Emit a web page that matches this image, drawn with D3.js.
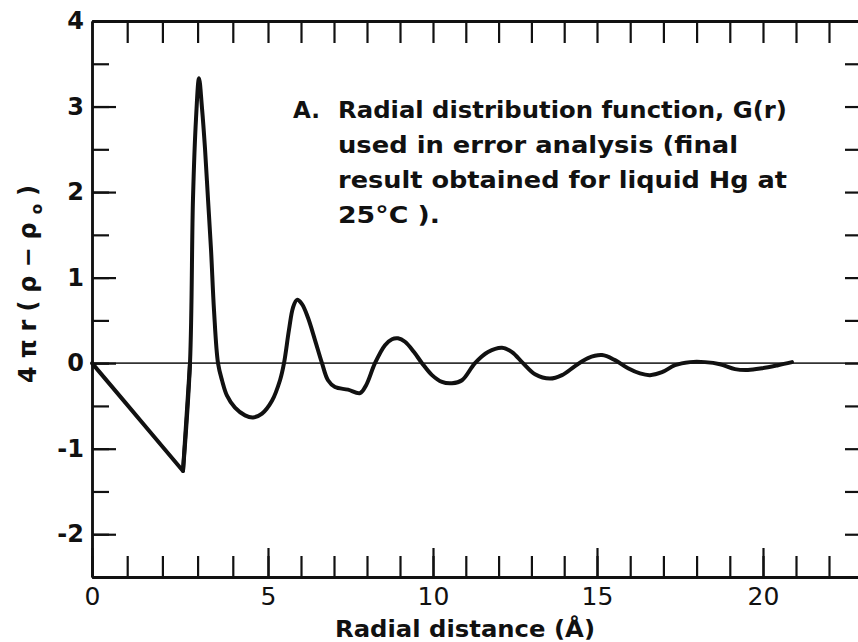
<!DOCTYPE html>
<html>
<head>
<meta charset="utf-8">
<script src="https://cdn.jsdelivr.net/npm/d3@7/dist/d3.min.js"></script>
<style>
  html, body { margin: 0; padding: 0; background: #fff; }
  svg { display: block; }
  text { fill: #111; }
</style>
</head>
<body>
<svg id="chart" width="858" height="642"></svg>
<script>
// Radial distance r (Å) and G(r) = 4πr(ρ − ρ0) for liquid Hg at 25 °C
const radius = [0, 0.852, 1.705, 2.585, 2.784, 2.869, 2.955, 3.040, 3.125, 3.210, 3.295, 3.381, 3.466, 3.580,
  3.693, 3.835, 4.062, 4.347, 4.574, 4.830, 5.121, 5.364, 5.485, 5.636, 5.758, 5.879, 6.030, 6.212, 6.424,
  6.636, 6.818, 7.030, 7.424, 7.788, 7.970, 8.242, 8.545, 8.758, 8.939, 9.152, 9.424, 9.667, 9.970, 10.274,
  10.579, 10.884, 11.280, 11.677, 12.104, 12.409, 12.744, 13.110, 13.567, 13.933, 14.329, 14.726, 15.151,
  15.542, 15.934, 16.295, 16.596, 16.958, 17.349, 17.801, 18.253, 18.705, 19.157, 19.548, 19.970, 20.455,
  20.879];
const gValues = [0, -0.415, -0.831, -1.26, 0, 1.92, 2.86, 3.33, 2.98, 2.51, 1.92, 1.33, 0.62, 0,
  -0.20, -0.38, -0.52, -0.61, -0.635, -0.59, -0.44, -0.20, 0, 0.39, 0.65, 0.74, 0.69, 0.53, 0.27,
  0, -0.20, -0.28, -0.31, -0.35, -0.26, 0, 0.21, 0.28, 0.29, 0.25, 0.13, 0, -0.14, -0.22,
  -0.235, -0.20, 0, 0.13, 0.18, 0.13, 0, -0.13, -0.18, -0.14, -0.035, 0.06, 0.094,
  0.035, -0.06, -0.12, -0.14, -0.106, -0.024, 0.012, 0.012, -0.012, -0.07, -0.08, -0.06, -0.024,
  0.012];

// Axis ticks and labels
const xMinorTicks = d3.range(0, 24, 1);
const xMajorTicks = [0, 5, 10, 15, 20];
const yMinorTicks = d3.range(-2.5, 4.01, 0.5);
const yMajorTicks = [-2, -1, 0, 1, 2, 3, 4];

const annotationLines = [
  "Radial distribution function, G(r)",
  "used in error analysis (final",
  "result obtained for liquid Hg at",
  "25°C )."
];
const xTitle = "Radial distance (Å)";

const svg = d3.select("#chart");
const FONT = "'DejaVu Sans', 'Liberation Sans', sans-serif";

// the printed abscissa is slightly stretched near the origin, so the scale is piecewise linear
const x = d3.scaleLinear().domain([0, 5, 10, 15, 20, 23]).range([92, 268, 433, 597, 763, 862]);
const y = d3.scaleLinear().domain([-2.5, 4]).range([577, 21]);

const plotLeft = x(0), plotRight = x(23), plotTop = y(4), plotBottom = y(-2.5);

// zero reference line
svg.append("line")
  .attr("x1", plotLeft).attr("x2", plotRight)
  .attr("y1", y(0)).attr("y2", y(0))
  .attr("stroke", "#333").attr("stroke-width", 1.6);

function styleAxis(g, width) {
  g.select(".domain").attr("stroke", "#111").attr("stroke-width", width);
  g.selectAll(".tick line").attr("stroke", "#111").attr("stroke-width", 2.2);
  g.selectAll(".tick text").attr("fill", "#111").attr("font-family", FONT);
}

const fmt = d => (d < 0 ? "-" : "") + Math.abs(d);

// bottom axis: minor ticks, then labelled majors
svg.append("g").attr("transform", `translate(0,${plotBottom})`)
  .call(d3.axisBottom(x).tickValues(xMinorTicks).tickSize(-21).tickSizeOuter(0).tickFormat(""))
  .call(g => styleAxis(g, 3));
svg.append("g").attr("transform", `translate(0,${plotBottom})`)
  .call(d3.axisBottom(x).tickValues(xMajorTicks).tickSize(-29).tickSizeOuter(0).tickPadding(10).tickFormat(fmt))
  .call(g => styleAxis(g, 3))
  .call(g => g.selectAll(".tick text").attr("font-size", 25));

// top axis
svg.append("g").attr("transform", `translate(0,${plotTop})`)
  .call(d3.axisTop(x).tickValues(xMinorTicks.filter(d => d > 0)).tickSize(-22).tickSizeOuter(0).tickFormat(""))
  .call(g => styleAxis(g, 3));

// left axis: half-unit minors and labelled integers
svg.append("g").attr("transform", `translate(${plotLeft},0)`)
  .call(d3.axisLeft(y).tickValues(yMinorTicks).tickSize(-17).tickSizeOuter(0).tickFormat(""))
  .call(g => styleAxis(g, 2.5));
svg.append("g").attr("transform", `translate(${plotLeft},0)`)
  .call(d3.axisLeft(y).tickValues(yMajorTicks).tickSize(-24).tickSizeOuter(0).tickPadding(8).tickFormat(fmt))
  .call(g => styleAxis(g, 2.5))
  .call(g => g.selectAll(".tick text").attr("font-size", 24).attr("font-weight", "bold"));

// right axis
svg.append("g").attr("transform", `translate(${plotRight},0)`)
  .call(d3.axisRight(y).tickValues(yMinorTicks).tickSize(-17).tickSizeOuter(0).tickFormat(""))
  .call(g => styleAxis(g, 2.5));

// G(r) curve: straight ramp up to the first minimum, smooth oscillation afterwards
const pts = radius.map((r, i) => [r, gValues[i]]);
const minIdx = 3;
const curveStyle = sel => sel
  .attr("fill", "none")
  .attr("stroke", "#111")
  .attr("stroke-width", 4)
  .attr("stroke-linejoin", "round")
  .attr("stroke-linecap", "round");
svg.append("path")
  .datum(pts.slice(0, minIdx + 2))
  .call(curveStyle)
  .attr("d", d3.line().x(d => x(d[0])).y(d => y(d[1])).curve(d3.curveLinear));
svg.append("path")
  .datum(pts.slice(minIdx))
  .call(curveStyle)
  .attr("d", d3.line().x(d => x(d[0])).y(d => y(d[1])).curve(d3.curveCatmullRom.alpha(0.5)));

// annotation block
const ann = svg.append("g").attr("font-family", FONT).attr("font-weight", "bold").attr("font-size", 23);
ann.append("text").attr("x", 293).attr("y", 118).text("A.");
const lineWidths = [449, 400, 449, 102];
annotationLines.forEach((t, i) => {
  ann.append("text")
    .attr("x", 338).attr("y", 118 + i * 35)
    .attr("textLength", lineWidths[i])
    .attr("lengthAdjust", "spacingAndGlyphs")
    .text(t);
});

// x title
svg.append("text")
  .attr("x", 335).attr("y", 637)
  .attr("font-family", FONT).attr("font-weight", "bold").attr("font-size", 23)
  .attr("textLength", 260).attr("lengthAdjust", "spacingAndGlyphs")
  .text(xTitle);

// y title: 4πr(ρ − ρo)
const yt = svg.append("text")
  .attr("transform", "translate(36,383) rotate(-90)")
  .attr("font-family", FONT).attr("font-weight", "bold").attr("font-size", 24)
  .attr("textLength", 198).attr("lengthAdjust", "spacing");
yt.append("tspan").text("4πr(ρ−ρ");
yt.append("tspan").attr("font-size", 15).attr("dy", 6).text("o");
yt.append("tspan").attr("dy", -6).text(")");
</script>
</body>
</html>
